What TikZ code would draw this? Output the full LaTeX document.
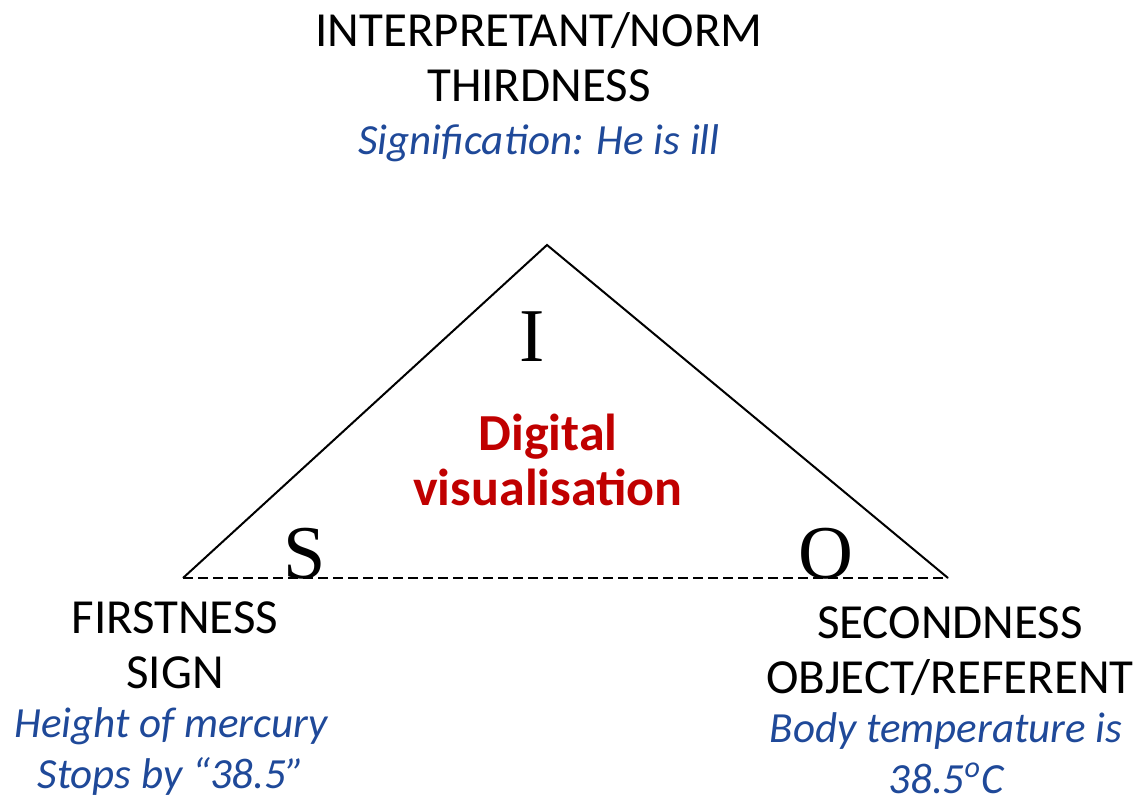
\documentclass[tikz,border=0pt]{standalone}
\usepackage{fontspec}
\setmainfont{Carlito}
\newfontfamily\letterfont{Liberation Serif}
\usetikzlibrary{positioning}
\definecolor{noteblue}{RGB}{31,73,153}
\definecolor{accentred}{RGB}{192,0,0}

\begin{document}
\begin{tikzpicture}[
  x=0.5pt, y=-0.5pt,
  every node/.style={inner sep=0pt, outer sep=0pt},
  caps/.style={font=\fontsize{24.5}{27.5}\selectfont, align=center, anchor=base},
  note/.style={font=\fontsize{21.5}{25.5}\selectfont\itshape, text=noteblue, align=center, anchor=base},
  corner/.style={font=\fontsize{38}{40}\letterfont, anchor=base},
  centre/.style={font=\fontsize{26}{27.5}\selectfont\bfseries, text=accentred, align=center, anchor=base},
  side/.style={line width=1pt},
  base/.style={line width=1.3pt, dash pattern=on 5pt off 2.5pt}
]
\useasboundingbox (0,0) rectangle (1134,801);

% triangle corners
\coordinate (apex) at (547,245);
\coordinate (sgn)  at (183,578);
\coordinate (obj)  at (948,578);

\draw[side] (sgn) -- (apex) -- (obj);
\draw[base] (sgn) -- (obj);

% letters inside the corners
\node[corner] (I) at (532,362) {I};
\node[corner] (S) at (305,578) {S};
\node[corner] (O) at (826,578) {O};

% two-line nodes sit on the baseline of their last line
\node[centre] (digi) at (548,505) {Digital\\visualisation};

% interpretant (top)
\node[caps] (third) at (539,102) {INTERPRETANT/NORM\\THIRDNESS};
\node[note] (third-n) at (539,155) {Signification: He is ill};

% sign (bottom left)
\node[caps] (first) at (175,688) {FIRSTNESS\\SIGN};
\node[note] (first-n) at (171,788) {Height of mercury\\Stops by “38.5”};

% object (bottom right)
\node[caps] (second) at (950,693) {SECONDNESS\\OBJECT/REFERENT};
\node[note] (second-n) at (946,793) {Body temperature is\\38.5\textsuperscript{o}C};

\end{tikzpicture}
\end{document}
